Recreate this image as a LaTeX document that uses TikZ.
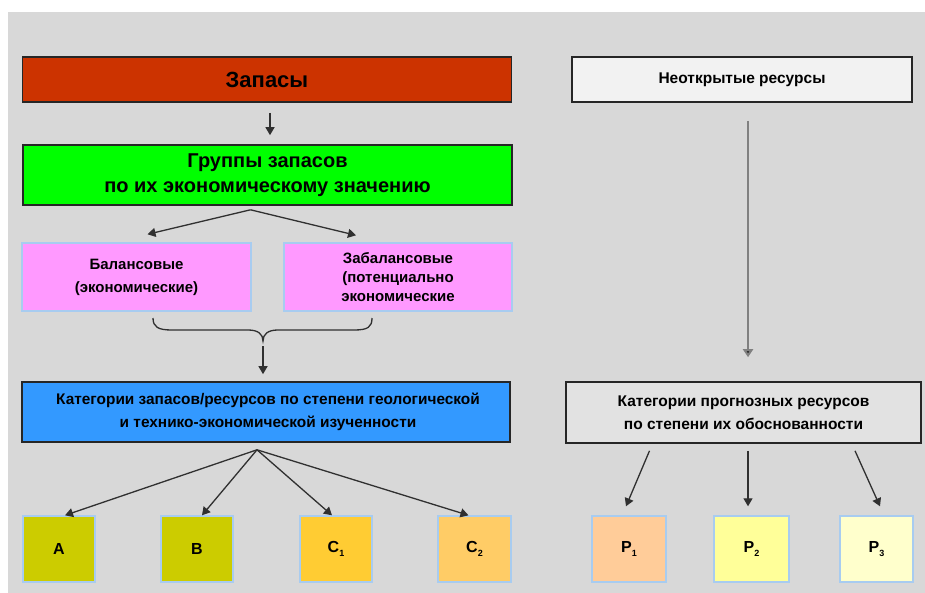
\documentclass[tikz,border=0pt]{standalone}
\usepackage{fontspec}
\setmainfont{Liberation Sans}
\usetikzlibrary{arrows.meta,calc}

\definecolor{panel}{HTML}{D8D8D8}
\definecolor{zred}{HTML}{CC3300}
\definecolor{zgreen}{HTML}{00FF00}
\definecolor{zpink}{HTML}{FF99FF}
\definecolor{zblue}{HTML}{3399FF}
\definecolor{zolive}{HTML}{CCCC00}
\definecolor{zgold}{HTML}{FFCC33}
\definecolor{zsand}{HTML}{FFCC66}
\definecolor{zpeach}{HTML}{FFCC99}
\definecolor{zyellow}{HTML}{FFFF99}
\definecolor{zcream}{HTML}{FFFFCC}
\definecolor{zedge}{HTML}{A8CCF0}
\definecolor{zlight}{HTML}{F2F2F2}
\definecolor{zgrey}{HTML}{E2E2E2}
\definecolor{zline}{HTML}{303030}

\newcommand{\sub}[1]{\raisebox{-4pt}{\fontsize{9}{9}\selectfont #1}}

\tikzset{
  base/.style={rectangle, inner sep=0pt, align=center, font=\bfseries},
  darkbox/.style={base, draw=black!85, line width=1.6pt},
  softbox/.style={base, draw=zedge, line width=1.4pt},
  cell/.style={softbox, font=\bfseries\fontsize{16}{18}\selectfont},
  arr/.style={draw=zline, line width=1.3pt, -{Triangle[length=8pt,width=9pt]}},
  greyarr/.style={draw=black!50, line width=2pt, -{Triangle[length=8pt,width=10pt,fill=black!85]}},
}

\begin{document}
\begin{tikzpicture}[x=1pt,y=-1pt]
\useasboundingbox (0,0) rectangle (925,593);
\fill[white] (0,0) rectangle (925,593);
\fill[panel] (8,12) rectangle (925,593);

% left column: reserves
\node[darkbox, fill=zred, minimum width=489, minimum height=45,
      font=\bfseries\fontsize{22}{26}\selectfont] (zap) at (267,79.5) {Запасы};
\node[darkbox, fill=zgreen, minimum width=489, minimum height=60,
      font=\bfseries\fontsize{20}{25}\selectfont] (grp) at (267.5,175)
      {Группы запасов\\по их экономическому значению};
\node[softbox, fill=zpink, minimum width=229, minimum height=68,
      font=\bfseries\fontsize{15}{23}\selectfont] (bal) at (136.5,277)
      {Балансовые\\(экономические)};
\node[softbox, fill=zpink, minimum width=228, minimum height=68,
      font=\bfseries\fontsize{15}{19}\selectfont] (zab) at (398,277)
      {Забалансовые\\(потенциально\\экономические};
\node[darkbox, fill=zblue, minimum width=488, minimum height=60,
      font=\bfseries\fontsize{15.4}{23}\selectfont] (cat) at (266,412)
      {\hspace*{4pt}Категории запасов/ресурсов по степени геологической\\\hspace*{4pt}и технико-экономической изученности};

\node[cell, fill=zolive, minimum width=72, minimum height=66] (cA) at (59,549) {А};
\node[cell, fill=zolive, minimum width=72, minimum height=66] (cB) at (197,549) {В};
\node[cell, fill=zgold, minimum width=72, minimum height=66] (cC1) at (336,549) {С\sub{1}};
\node[cell, fill=zsand, minimum width=73, minimum height=66] (cC2) at (474.5,549) {С\sub{2}};

% right column: undiscovered resources
\node[darkbox, fill=zlight, minimum width=340, minimum height=45,
      font=\bfseries\fontsize{15.5}{18}\selectfont] (neo) at (742,79.5) {Неоткрытые ресурсы};
\node[darkbox, fill=zgrey, minimum width=355, minimum height=61,
      font=\bfseries\fontsize{15.5}{23}\selectfont] (prog) at (743.5,412.5)
      {Категории прогнозных ресурсов\\по степени их обоснованности};

\node[cell, fill=zpeach, minimum width=74, minimum height=66] (p1) at (629,549) {Р\sub{1}};
\node[cell, fill=zyellow, minimum width=75, minimum height=66] (p2) at (751.5,549) {Р\sub{2}};
\node[cell, fill=zcream, minimum width=73, minimum height=66] (p3) at (876.5,549) {Р\sub{3}};

% connectors, left column
\draw[arr] ([xshift=3pt,yshift=-10pt]zap.south) -- ([xshift=2.5pt,yshift=9pt]grp.north);
\coordinate (gsplit) at ($(grp.south)+(-17,4)$);
\draw[arr] (gsplit) -- ([xshift=11pt,yshift=8pt]bal.north);
\draw[arr] (gsplit) -- ([xshift=-42pt,yshift=7pt]zab.north);

% brace joining the two groups
\coordinate (bmid) at (263,341);
\draw[zline, line width=1.3pt]
  (153,318) .. controls (153,327) and (158,330) .. (172,330)
  -- (248,330) .. controls (258,330) and (263,334) .. (bmid)
  .. controls (263,334) and (268,330) .. (278,330)
  -- (354,330) .. controls (368,330) and (372,327) .. (372,318);
\draw[arr] ($(bmid)+(0,5)$) -- ([yshift=7pt]cat.north -| bmid);

\coordinate (csplit) at ($(cat.south)+(-9,7)$);
\draw[arr] (csplit) -- ([xshift=6pt]cA.north);
\draw[arr] (csplit) -- ([xshift=5pt]cB.north);
\draw[arr] (csplit) -- ([xshift=-4pt]cC1.north);
\draw[arr] (csplit) -- ([xshift=-6pt]cC2.north);

% connectors, right column
\coordinate (ntop) at ($(neo.south)+(6,18)$);
\draw[greyarr] (ntop) -- ([yshift=24pt]prog.north -| ntop);
\draw[arr] ($(prog.south)+(-94,7)$) -- ($(p1.north)+(-3,-9)$);
\draw[arr] ($(prog.south)+(4.5,7)$) -- ($(p2.north)+(-3.5,-9)$);
\draw[arr] ($(prog.south)+(111.5,7)$) -- ($(p3.north)+(3.5,-9)$);
\end{tikzpicture}
\end{document}
